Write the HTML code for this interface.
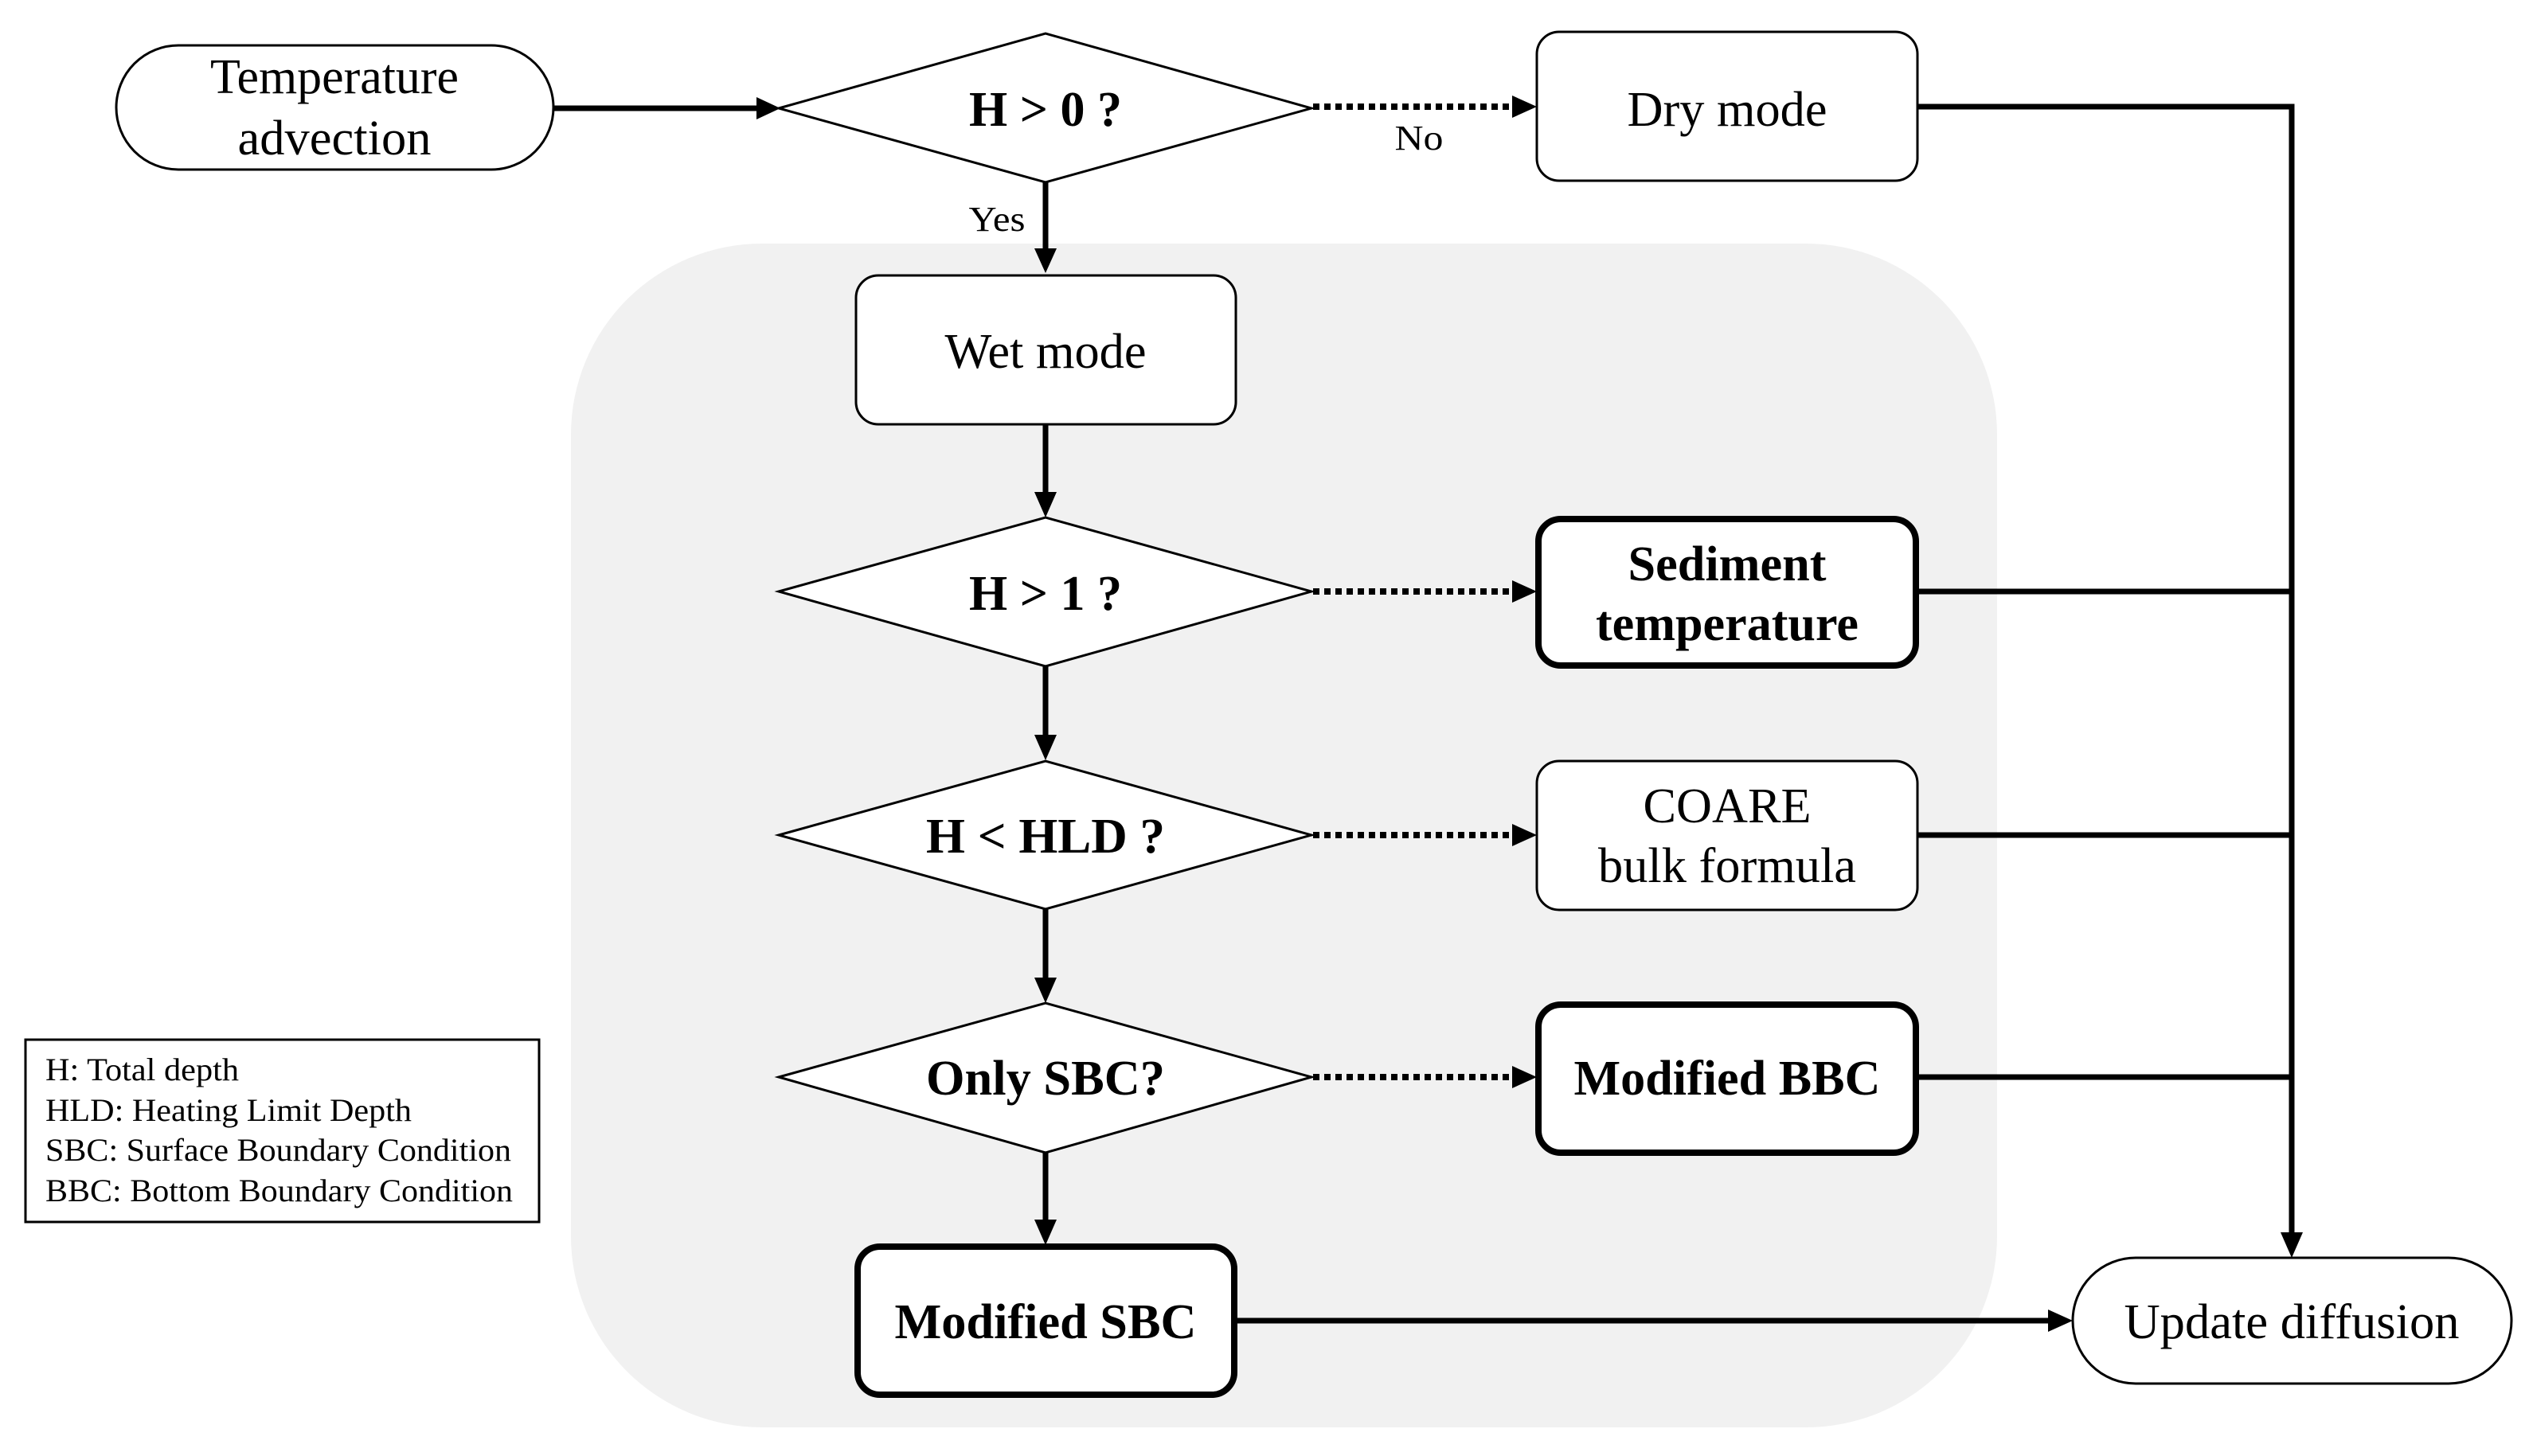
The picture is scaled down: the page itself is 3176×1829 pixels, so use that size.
<!DOCTYPE html>
<html><head><meta charset="utf-8"><style>
html,body{margin:0;padding:0;background:#fff;}
svg{display:block;}
text{font-family:"Liberation Serif",serif;fill:#000;}
</style></head><body>
<svg width="3176" height="1829" viewBox="0 0 3176 1829" xmlns="http://www.w3.org/2000/svg">
<defs>
<marker id="ah" markerWidth="8" markerHeight="8" refX="7" refY="4" orient="auto" markerUnits="userSpaceOnUse" viewBox="0 0 8 8">
</marker>
</defs>
<!-- gray region -->
<rect x="717" y="306" width="1791" height="1487" rx="240" ry="240" fill="#f1f1f1"/>

<!-- connectors -->
<g stroke="#000" stroke-width="7" fill="none">
  <line x1="695" y1="136" x2="960" y2="136"/>
  <line x1="1313" y1="229" x2="1313" y2="322"/>
  <line x1="1313" y1="533" x2="1313" y2="626"/>
  <line x1="1313" y1="837" x2="1313" y2="930"/>
  <line x1="1313" y1="1142" x2="1313" y2="1236"/>
  <line x1="1313" y1="1448" x2="1313" y2="1540"/>
  <line x1="1552" y1="1659" x2="2580" y2="1659"/>
  <polyline points="2408,134 2878,134 2878,1552"/>
  <line x1="2408" y1="743" x2="2878" y2="743"/>
  <line x1="2408" y1="1049" x2="2878" y2="1049"/>
  <line x1="2408" y1="1353" x2="2878" y2="1353"/>
</g>
<g stroke="#000" stroke-width="8" fill="none" stroke-dasharray="8,6">
  <line x1="1649" y1="134" x2="1910" y2="134"/>
  <line x1="1649" y1="743" x2="1910" y2="743"/>
  <line x1="1649" y1="1049" x2="1910" y2="1049"/>
  <line x1="1649" y1="1353" x2="1910" y2="1353"/>
</g>
<!-- arrowheads -->
<g fill="#000">
  <polygon points="950,122 980,136 950,150"/>
  <polygon points="1899,120 1930,134 1899,148"/>
  <polygon points="1899,729 1930,743 1899,757"/>
  <polygon points="1899,1035 1930,1049 1899,1063"/>
  <polygon points="1899,1339 1930,1353 1899,1367"/>
  <polygon points="1299,312 1313,343 1327,312"/>
  <polygon points="1299,618 1313,650 1327,618"/>
  <polygon points="1299,923 1313,955 1327,923"/>
  <polygon points="1299,1228 1313,1260 1327,1228"/>
  <polygon points="1299,1532 1313,1564 1327,1532"/>
  <polygon points="2864,1548 2878,1580 2892,1548"/>
  <polygon points="2572,1645 2603,1659 2572,1673"/>
</g>

<!-- nodes -->
<g stroke="#000" fill="#fff">
  <rect x="146" y="57" width="549" height="156" rx="78" stroke-width="3"/>
  <polygon points="978,136 1313,42 1647,136 1313,229" stroke-width="3"/>
  <rect x="1930" y="40" width="478" height="187" rx="28" stroke-width="3"/>
  <rect x="1075" y="346" width="477" height="187" rx="28" stroke-width="3"/>
  <polygon points="978,743 1313,650 1647,743 1313,837" stroke-width="3"/>
  <rect x="1932" y="652" width="474" height="184" rx="28" stroke-width="8"/>
  <polygon points="978,1049 1313,956 1647,1049 1313,1142" stroke-width="3"/>
  <rect x="1930" y="956" width="478" height="187" rx="28" stroke-width="3"/>
  <polygon points="978,1353 1313,1260 1647,1353 1313,1448" stroke-width="3"/>
  <rect x="1932" y="1262" width="474" height="186" rx="28" stroke-width="8"/>
  <rect x="1077" y="1566" width="473" height="186" rx="28" stroke-width="8"/>
  <rect x="2603" y="1580" width="551" height="158" rx="79" stroke-width="3"/>
  <rect x="32" y="1306" width="645" height="229" stroke-width="3"/>
</g>

<!-- labels -->
<g font-size="62" text-anchor="middle">
  <text x="420" y="117" textLength="312" lengthAdjust="spacingAndGlyphs">Temperature</text>
  <text x="420" y="194" textLength="243" lengthAdjust="spacingAndGlyphs">advection</text>
  <text x="2169" y="158" textLength="251" lengthAdjust="spacingAndGlyphs">Dry mode</text>
  <text x="1313" y="462" textLength="253" lengthAdjust="spacingAndGlyphs">Wet mode</text>
  <text x="2169" y="1033" textLength="211" lengthAdjust="spacingAndGlyphs">COARE</text>
  <text x="2169" y="1108" textLength="324" lengthAdjust="spacingAndGlyphs">bulk formula</text>
  <text x="2878" y="1681" textLength="421" lengthAdjust="spacingAndGlyphs">Update diffusion</text>
</g>
<g font-size="62" font-weight="bold" text-anchor="middle">
  <text x="1313" y="158" textLength="192" lengthAdjust="spacingAndGlyphs">H &gt; 0 ?</text>
  <text x="1313" y="766" textLength="192" lengthAdjust="spacingAndGlyphs">H &gt; 1 ?</text>
  <text x="2169" y="729" textLength="249" lengthAdjust="spacingAndGlyphs">Sediment</text>
  <text x="2169" y="804" textLength="330" lengthAdjust="spacingAndGlyphs">temperature</text>
  <text x="1313" y="1071" textLength="300" lengthAdjust="spacingAndGlyphs">H &lt; HLD ?</text>
  <text x="1313" y="1375" textLength="300" lengthAdjust="spacingAndGlyphs">Only SBC?</text>
  <text x="2169" y="1375" textLength="385" lengthAdjust="spacingAndGlyphs">Modified BBC</text>
  <text x="1313" y="1681" textLength="379" lengthAdjust="spacingAndGlyphs">Modified SBC</text>
</g>
<g font-size="44" text-anchor="middle">
  <text x="1782" y="188" textLength="61" lengthAdjust="spacingAndGlyphs">No</text>
  <text x="1252" y="290" textLength="71" lengthAdjust="spacingAndGlyphs">Yes</text>
</g>
<g font-size="40">
  <text x="57" y="1357" textLength="243" lengthAdjust="spacingAndGlyphs">H: Total depth</text>
  <text x="57" y="1408" textLength="460" lengthAdjust="spacingAndGlyphs">HLD: Heating Limit Depth</text>
  <text x="57" y="1458" textLength="585" lengthAdjust="spacingAndGlyphs">SBC: Surface Boundary Condition</text>
  <text x="57" y="1509" textLength="587" lengthAdjust="spacingAndGlyphs">BBC: Bottom Boundary Condition</text>
</g>
</svg>
</body></html>
